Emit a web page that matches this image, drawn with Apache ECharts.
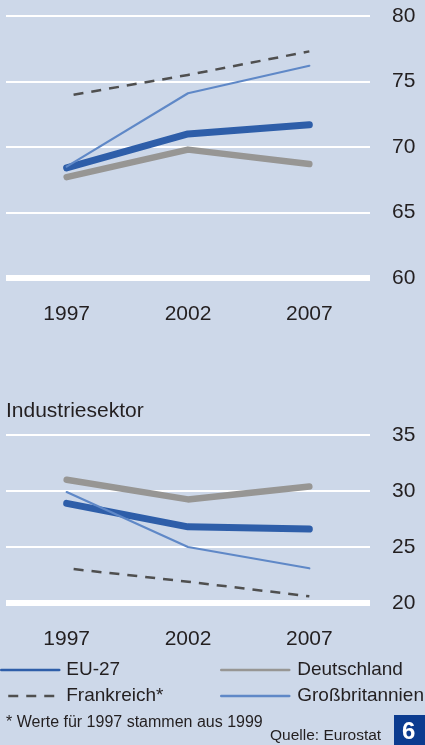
<!DOCTYPE html>
<html>
<head>
<meta charset="utf-8">
<script src="https://cdn.jsdelivr.net/npm/echarts@6/dist/echarts.min.js"></script>
<style>
  html, body { margin: 0; padding: 0; background: #cdd8e9; }
  #chart { width: 425px; height: 745px; }
</style>
</head>
<body>
<div id="chart"></div>
<script>
// Jahre
const years = ['1997', '2002', '2007']

// oberes Diagramm (60-80)
const euTop = [68.4, 71.0, 71.7]
const deTop = [67.7, 69.8, 68.7]
const frTop = [73.9, 75.5, 77.3]
const gbTop = [68.5, 74.1, 76.2]

// Industriesektor (20-35)
const euInd = [28.9, 26.8, 26.6]
const deInd = [31.0, 29.25, 30.4]
const frInd = [23.1, 21.9, 20.6]
const gbInd = [29.9, 25.0, 23.1]

const topTicks = { min: 60, max: 80, interval: 5 }
const indTicks = { min: 20, max: 35, interval: 5 }

const FONT = "'Liberation Sans', Arial, sans-serif"
const TEXT = '#231f20'

const C_EU = '#2e5ea9'
const C_DE = '#979694'
const C_FR = '#4f4f4f'
const C_GB = '#5f88c7'

const chart = echarts.init(document.getElementById('chart'))

const xAxisCfg = (gridIndex) => ({
  type: 'category',
  gridIndex,
  data: years,
  boundaryGap: true,
  axisLine: { show: true, lineStyle: { color: '#ffffff', width: 6, cap: 'butt' } },
  axisTick: { show: false },
  axisLabel: { color: TEXT, fontSize: 21, fontFamily: FONT, margin: 26 },
  splitLine: { show: false }
})

const yAxisCfg = (gridIndex, ticks) => ({
  type: 'value',
  gridIndex,
  position: 'right',
  min: ticks.min,
  max: ticks.max,
  interval: ticks.interval,
  axisLine: { show: false },
  axisTick: { show: false },
  axisLabel: { color: TEXT, fontSize: 21, fontFamily: FONT, margin: 22 },
  splitLine: { show: true, lineStyle: { color: '#ffffff', width: 2 } }
})

const line = (name, data, idx, color, width, dashed) => ({
  name,
  type: 'line',
  xAxisIndex: idx,
  yAxisIndex: idx,
  data,
  symbol: 'none',
  silent: true,
  itemStyle: { color },
  lineStyle: {
    color,
    width,
    cap: dashed ? 'butt' : 'round',
    join: 'round',
    type: dashed ? [10, 8] : 'solid',
    dashOffset: dashed ? 11 : 0
  }
})

const legendText = { color: TEXT, fontSize: 19, fontFamily: FONT, lineHeight: 20 }
// Legendensymbol nur als Linie, ohne Punkt
const legendItem = (name) => ({
  name,
  lineStyle: { width: 2.5 },
  itemStyle: { opacity: 0 }
})

const option = {
  backgroundColor: '#cdd8e9',
  animation: false,
  grid: [
    { left: 6, right: 55, top: 16, height: 262 },
    { left: 6, right: 55, top: 435, height: 168 }
  ],
  xAxis: [xAxisCfg(0), xAxisCfg(1)],
  yAxis: [yAxisCfg(0, topTicks), yAxisCfg(1, indTicks)],
  legend: [
    {
      orient: 'vertical',
      left: 0,
      top: 660,
      itemWidth: 58,
      itemHeight: 14,
      itemGap: 6,
      padding: 0,
      selectedMode: false,
      textStyle: Object.assign({ padding: [0, 0, 0, 2] }, legendText),
      data: [legendItem('EU-27'), legendItem('Frankreich*')]
    },
    {
      orient: 'vertical',
      left: 220,
      top: 660,
      itemWidth: 68,
      itemHeight: 14,
      itemGap: 6,
      padding: 0,
      selectedMode: false,
      textStyle: Object.assign({ padding: [0, 0, 0, 3] }, legendText),
      data: [legendItem('Deutschland'), legendItem('Großbritannien')]
    }
  ],
  series: [
    line('Deutschland', deTop, 0, C_DE, 6.5),
    line('EU-27', euTop, 0, C_EU, 7),
    line('Frankreich*', frTop, 0, C_FR, 2.5, true),
    line('Großbritannien', gbTop, 0, C_GB, 2.2),
    line('Deutschland', deInd, 1, C_DE, 6.5),
    line('EU-27', euInd, 1, C_EU, 7),
    line('Frankreich*', frInd, 1, C_FR, 2.5, true),
    line('Großbritannien', gbInd, 1, C_GB, 2.2)
  ],
  graphic: [
    {
      type: 'text',
      left: 6,
      top: 401,
      style: { text: 'Industriesektor', fill: TEXT, font: '21px ' + FONT }
    },
    {
      type: 'text',
      left: 6,
      top: 715,
      style: { text: '* Werte für 1997 stammen aus 1999', fill: TEXT, font: '16px ' + FONT }
    },
    {
      type: 'text',
      left: 270,
      top: 728,
      style: { text: 'Quelle: Eurostat', fill: TEXT, font: '15.5px ' + FONT }
    },
    {
      type: 'rect',
      left: 394,
      top: 715,
      shape: { width: 31, height: 30 },
      style: { fill: '#0b3b8f' }
    },
    {
      type: 'text',
      left: 402,
      top: 720,
      style: { text: '6', fill: '#ffffff', font: 'bold 24px ' + FONT }
    }
  ]
}

chart.setOption(option)
</script>
</body>
</html>
